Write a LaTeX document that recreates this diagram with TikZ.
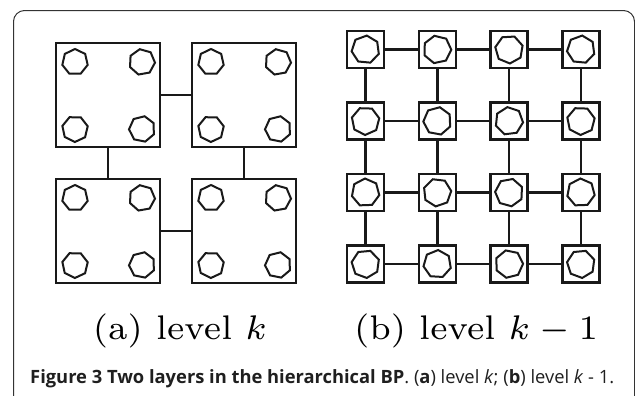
\documentclass[tikz,border=0pt]{standalone}
\usepackage{fontspec}
\usepackage{graphicx}
\newfontfamily\capfont{Open Sans}
\usetikzlibrary{shapes.geometric}
% sub-figure labels: small design size, enlarged
\newcommand{\biglabel}[1]{\scalebox{4.9}{\fontsize{7}{8.4}\selectfont #1}}
\begin{document}
\begin{tikzpicture}[x=1bp,y=-1bp,
  frame/.style={draw=black!80,line width=1bp,rounded corners=11bp},
  bigcell/.style={draw=black!90,line width=2.4bp,minimum size=104bp,inner sep=0pt},
  smallcell/.style={draw=black!90,line width=2.4bp,minimum size=37bp,inner sep=0pt},
  site/.style={draw=black!90,line width=2bp,regular polygon,regular polygon sides=7,inner sep=0pt,minimum size=#1},
  site/.default=27bp,
  link/.style={draw=black!90,line width=2.4bp},
  sublabel/.style={inner sep=0pt,anchor=base}]
\useasboundingbox (0,0) rectangle (635,395);
\begin{scope}
  \clip (0,0) rectangle (635,395);
  \draw[frame] (13.5,10.5) rectangle (634.5,420);
\end{scope}

% level k: four large blocks of four sites each
\foreach \i/\x/\y in {1/108/95,2/244/95,3/108/231,4/244/231}{
  \node[bigcell] (B\i) at (\x,\y) {};
  \foreach \j/\dx/\dy/\r in {1/-33/-33/0,2/34/-33/10,3/-33/34/25,4/34/34/40}
    \node[site=26bp,rotate=\r] (B\i s\j) at (\x+\dx,\y+\dy) {};
}
\draw[link] (B1) -- (B2);
\draw[link] (B3) -- (B4);
\draw[link] (B1) -- (B3);
\draw[link] (B2) -- (B4);

% level k-1: 4x4 grid of single sites
\foreach \c in {1,...,4}{
  \foreach \r in {1,...,4}{
    \pgfmathsetmacro\cx{365.5+71.8*(\c-1)}
    \pgfmathsetmacro\cy{49.5+71.5*(\r-1)}
    \pgfmathsetmacro\rot{mod(17*\c+29*\r,51)}
    \node[smallcell] (S\c\r) at (\cx,\cy) {};
    \node[site=28bp,rotate=\rot] (S\c\r p) at (\cx,\cy) {};
  }
}
\foreach \r in {1,...,4}{
  \draw[link] (S1\r) -- (S2\r);
  \draw[link] (S2\r) -- (S3\r);
  \draw[link] (S3\r) -- (S4\r);
}
\foreach \c in {1,...,4}{
  \draw[link] (S\c1) -- (S\c2);
  \draw[link] (S\c2) -- (S\c3);
  \draw[link] (S\c3) -- (S\c4);
}

\node[sublabel] (la) at (180,339) {\biglabel{(a)\ level $k$}};
\node[sublabel] (lb) at (476,339) {\biglabel{(b)\ level $k-1$}};

\node[anchor=base west,inner sep=0pt,font=\capfont\fontsize{18.4}{21}\selectfont,text=black!88] (cap) at (30,383)
  {\textbf{Figure 3 Two layers in the hierarchical BP}. (\textbf{a}) level \textit{k}; (\textbf{b}) level \textit{k} - 1.};
\end{tikzpicture}
\end{document}
